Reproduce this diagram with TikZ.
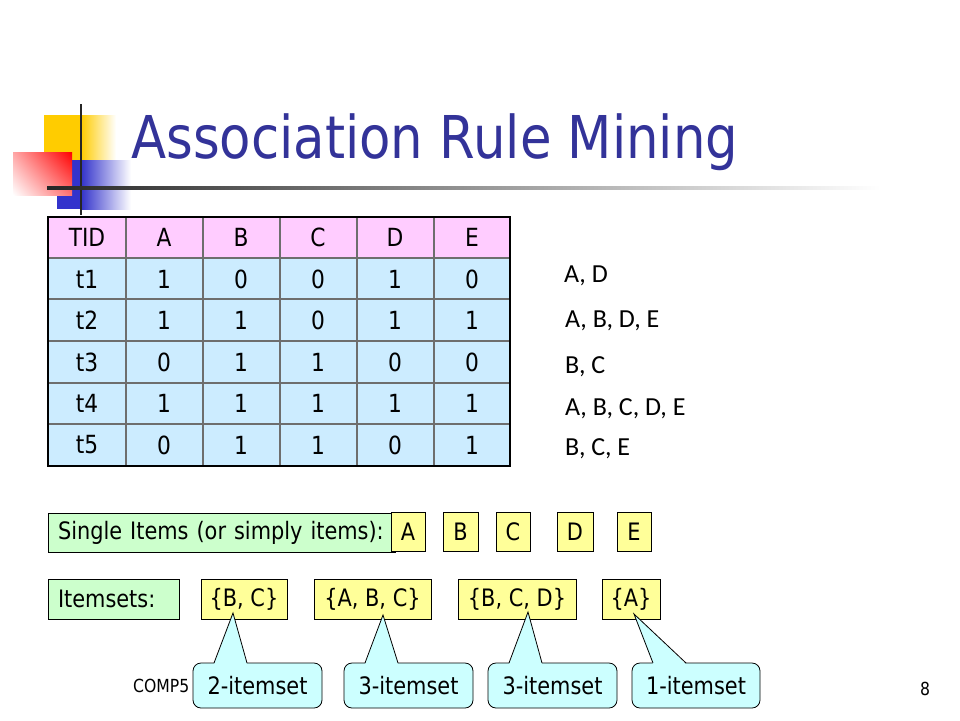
\documentclass[tikz,border=0pt]{standalone}
\usepackage{fontspec}
\setmainfont{DejaVu Sans}[FakeStretch=0.87]
\newfontfamily\listfont{Carlito}
\usetikzlibrary{calc,shadings}
\definecolor{titleblue}{RGB}{51,51,153}
\definecolor{headpink}{RGB}{255,204,255}
\definecolor{rowblue}{RGB}{204,236,255}
\definecolor{itemyellow}{RGB}{255,255,153}
\definecolor{namegreen}{RGB}{204,255,204}
\definecolor{notecyan}{RGB}{204,255,255}
\definecolor{gridgray}{RGB}{110,110,110}
\definecolor{logoyellow}{RGB}{255,204,0}
\definecolor{logoblue}{RGB}{51,51,204}
\tikzset{
  cell/.style={font=\fontsize{25}{29}\selectfont},
  namebox/.style={draw, fill=namegreen, line width=0.8pt, outer sep=0pt, anchor=north west,
    minimum height=39, inner xsep=10, inner ysep=0, align=left, font=\fontsize{24}{28}\selectfont},
  itembox/.style={draw, fill=itemyellow, line width=0.8pt, outer sep=0pt, anchor=north west,
    inner sep=0, font=\fontsize{24}{28}\selectfont},
  notebox/.style={draw, fill=notecyan, line width=0.8pt, rounded corners=8, outer sep=0pt,
    anchor=north west, minimum height=45, inner sep=0, font=\fontsize{24}{28}\selectfont},
  txlist/.style={anchor=west, inner sep=0, font=\listfont\fontsize{26}{30}\selectfont},
}
% pointer of a callout: node, tip
\newcommand\callptr[2]{%
  \fill[notecyan] ($(#1.north west)+(21,1.2)$) -- (#2) -- ($(#1.north west)+(54,1.2)$) -- cycle;
  \draw[line width=0.8pt] ($(#1.north west)+(21,0)$) -- (#2) -- ($(#1.north west)+(54,0)$);}
\begin{document}
\begin{tikzpicture}[x=1pt,y=-1pt]
\useasboundingbox (0,0) rectangle (960,720);
\fill[white] (0,0) rectangle (960,720);
% logo
\fill[logoyellow] (44,115) rectangle (81,160);
\shade[left color=logoyellow, right color=white] (81,115) rectangle (116,160);
\fill[logoblue] (57,160) rectangle (81,209);
\shade[left color=logoblue, right color=white] (81,160) rectangle (131,209);
\shade[upper right=red, upper left=red!35!white, lower right=red!55!white, lower left=white]
  (13,152) rectangle (72,195);
\draw[line width=2pt, black!85] (81,104) -- (81,215);
\shade[left color=black!85, right color=white] (47,186.5) rectangle (880,189.5);
\node[anchor=base west, inner sep=0, text=titleblue, font=\fontsize{59}{64}\selectfont]
  (title) at (131,158) {Association Rule Mining};
% table
\fill[headpink] (48,217) rectangle (510,258);
\fill[rowblue] (48,258) rectangle (510,466);
\foreach \x in {126,203,280,357,434} \draw[gridgray, line width=1.2pt] (\x,217) -- (\x,466);
\foreach \y in {258,299,341,383,424} \draw[gridgray, line width=1.2pt] (48,\y) -- (510,\y);
\draw[line width=2.5pt] (48,217) rectangle (510,466);
\foreach \r/\row in {0/{TID,A,B,C,D,E},1/{t1,1,0,0,1,0},2/{t2,1,1,0,1,1},
    3/{t3,0,1,1,0,0},4/{t4,1,1,1,1,1},5/{t5,0,1,1,0,1}}
  \foreach \v [count=\c] in \row
    \node[cell] (cell-\r-\c) at ({87+77*(\c-1)},{237.5+41.5*\r}) {\v};
% transactions
\node[txlist] (tr1) at (564,276) {A, D};
\node[txlist] (tr2) at (565,321) {A, B, D, E};
\node[txlist] (tr3) at (565,367) {B, C};
\node[txlist] (tr4) at (565,409) {A, B, C, D, E};
\node[txlist] (tr5) at (565,449) {B, C, E};
% items
\node[namebox, text width=327] (single) at (48,513) {Single Items (or simply items):};
\node[itembox, minimum width=34, minimum height=39] (itA) at (391,512) {A};
\node[itembox, minimum width=35, minimum height=39] (itB) at (443,512) {B};
\node[itembox, minimum width=34, minimum height=39] (itC) at (496,512) {C};
\node[itembox, minimum width=36, minimum height=39] (itD) at (557,512) {D};
\node[itembox, minimum width=34, minimum height=39] (itE) at (617,512) {E};
% itemsets
\node[namebox, text width=111, minimum height=40] (sets) at (48,579) {Itemsets:};
\node[itembox, minimum width=86, minimum height=40] (setBC) at (201,579) {\{B, C\}};
\node[itembox, minimum width=117, minimum height=40] (setABC) at (314,579) {\{A, B, C\}};
\node[itembox, minimum width=118, minimum height=40] (setBCD) at (458,579) {\{B, C, D\}};
\node[itembox, minimum width=58, minimum height=40] (setA) at (602,579) {\{A\}};
% footer
\node[anchor=west, inner sep=0, font=\fontsize{18}{20}\selectfont] (course) at (133,686) {COMP5};
\node[inner sep=0, font=\fontsize{18}{20}\selectfont] (page) at (925,689) {8};
% callouts
\coordinate (tipBC) at (233,613);
\coordinate (tipABC) at (383,615);
\coordinate (tipBCD) at (528,612);
\coordinate (tipA) at (634,614);
\node[notebox, minimum width=129] (two) at (193,663) {2-itemset};
\node[notebox, minimum width=129] (threeA) at (344,663) {3-itemset};
\node[notebox, minimum width=129] (threeB) at (488,663) {3-itemset};
\node[notebox, minimum width=128] (one) at (632,663) {1-itemset};
\callptr{two}{tipBC}
\callptr{threeA}{tipABC}
\callptr{threeB}{tipBCD}
\callptr{one}{tipA}
\end{tikzpicture}
\end{document}
